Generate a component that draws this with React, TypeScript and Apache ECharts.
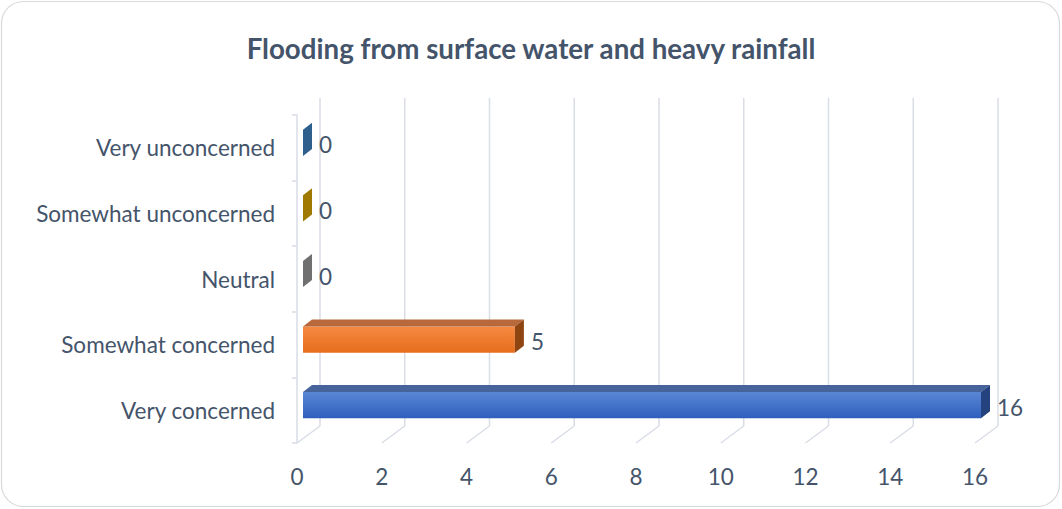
import React, { useEffect, useRef } from "react";
import * as echarts from "echarts";

const categories = ["Very concerned", "Somewhat concerned", "Neutral", "Somewhat unconcerned", "Very unconcerned"];
const values = [16, 5, 0, 0, 0];
const xTicks = [0, 2, 4, 6, 8, 10, 12, 14, 16];
const frontTop = ["#5a86d4", "#f68a42", "#a5a5a5", "#ffc000", "#5b9bd5"];
const frontBottom = ["#2e5fbd", "#e66d1c", "#8c8c8c", "#d9a300", "#3f7fbf"];
const topFace = ["#46639c", "#b8693c", "#8a8a8a", "#b89000", "#40709e"];
const sideFace = ["#23427e", "#8f4512", "#707070", "#a07a00", "#2f5f8c"];

const TEXT = "#44546a";
const GRID = "#d9dde6";
const FONT = "Lato, 'Noto Sans', sans-serif";

// 3D geometry (pixel offsets)
const WALL_DX = 23;
const WALL_DY = -17;
const FRONT_DX = 6;
const FRONT_DY = -5;
const DEPTH_DX = 9;
const DEPTH_DY = -7;

export default function App() {
  const ref = useRef<HTMLDivElement>(null);
  useEffect(() => {
    const chart = echarts.init(ref.current!, null, { renderer: "svg" });
    const option: any = {
      animation: false,
      backgroundColor: "#ffffff",
      title: {
        text: "Flooding from surface water and heavy rainfall",
        left: "center",
        top: 29,
        textStyle: { color: TEXT, fontSize: 27.7, fontWeight: "bold", fontFamily: FONT },
      },
      graphic: [
        {
          type: "rect",
          z: -10,
          shape: { x: 1.5, y: 1.5, width: 1058, height: 505, r: 22 },
          style: { fill: "none", stroke: "#d9d9d9", lineWidth: 1.2 },
          silent: true,
        },
      ],
      grid: { left: 297, top: 115, width: 678, height: 328 },
      xAxis: {
        type: "value",
        min: 0,
        max: 16,
        interval: 2,
        axisLine: { show: false },
        axisTick: { show: false },
        splitLine: { show: false },
        axisLabel: { color: TEXT, fontSize: 22.5, fontFamily: FONT, margin: 22 },
      },
      yAxis: {
        type: "category",
        data: categories,
        axisLine: { show: true, lineStyle: { color: GRID, width: 1.5 } },
        axisTick: { show: true, length: 5, lineStyle: { color: GRID, width: 1.5 } },
        splitLine: { show: false },
        axisLabel: { color: TEXT, fontSize: 22.5, fontFamily: FONT, margin: 22 },
      },
      series: [
        {
          type: "custom",
          name: "grid3d",
          silent: true,
          z: 1,
          data: xTicks.map((t) => [t, 0]),
          encode: { x: 0, y: 1 },
          renderItem: (params: any, api: any) => {
            const cs = params.coordSys;
            const v = api.value(0);
            const x = api.coord([v, 0])[0];
            const yTop = cs.y;
            const yBot = cs.y + cs.height;
            return {
              type: "group",
              children: [
                {
                  type: "line",
                  shape: { x1: x + WALL_DX, y1: yTop + WALL_DY, x2: x + WALL_DX, y2: yBot + WALL_DY },
                  style: { stroke: GRID, lineWidth: 1.5 },
                },
                {
                  type: "line",
                  shape: { x1: x, y1: yBot, x2: x + WALL_DX, y2: yBot + WALL_DY },
                  style: { stroke: GRID, lineWidth: 1.5 },
                },
              ],
            };
          },
        },
        {
          type: "custom",
          name: "bars",
          z: 5,
          data: values.map((v, i) => [v, i]),
          encode: { x: 0, y: 1 },
          renderItem: (params: any, api: any) => {
            const v = api.value(0);
            const idx = api.value(1);
            const p0 = api.coord([0, idx]);
            const p1 = api.coord([v, idx]);
            const band = api.size([0, 1])[1];
            const h = band * 0.4;
            const xl = p0[0] + FRONT_DX;
            const xr = p1[0] + FRONT_DX;
            const yt = p0[1] + FRONT_DY - h / 2;
            const yb = yt + h;
            const children: any[] = [];
            if (xr - xl > 0.5) {
              children.push({
                type: "rect",
                shape: { x: xl, y: yt, width: xr - xl, height: h },
                style: {
                  fill: new echarts.graphic.LinearGradient(0, 0, 0, 1, [
                    { offset: 0, color: frontTop[idx] },
                    { offset: 1, color: frontBottom[idx] },
                  ]),
                },
              });
              children.push({
                type: "polygon",
                shape: {
                  points: [
                    [xl, yt],
                    [xr, yt],
                    [xr + DEPTH_DX, yt + DEPTH_DY],
                    [xl + DEPTH_DX, yt + DEPTH_DY],
                  ],
                },
                style: { fill: topFace[idx] },
              });
            }
            children.push({
              type: "polygon",
              shape: {
                points: [
                  [xr, yt],
                  [xr + DEPTH_DX, yt + DEPTH_DY],
                  [xr + DEPTH_DX, yb + DEPTH_DY],
                  [xr, yb],
                ],
              },
              style: { fill: sideFace[idx] },
            });
            children.push({
              type: "text",
              x: xr + DEPTH_DX + 7,
              y: (yt + yb) / 2 + 2,
              style: {
                text: String(v),
                fill: TEXT,
                fontSize: 22.5,
                fontFamily: FONT,
                align: "left",
                verticalAlign: "middle",
              },
            });
            return { type: "group", children };
          },
        },
      ],
    };
    chart.setOption(option);
    return () => chart.dispose();
  }, []);
  return (
    <div
      ref={ref}
      style={{ position: "absolute", left: 0, top: 0, width: 1062, height: 509 }}
    />
  );
}
